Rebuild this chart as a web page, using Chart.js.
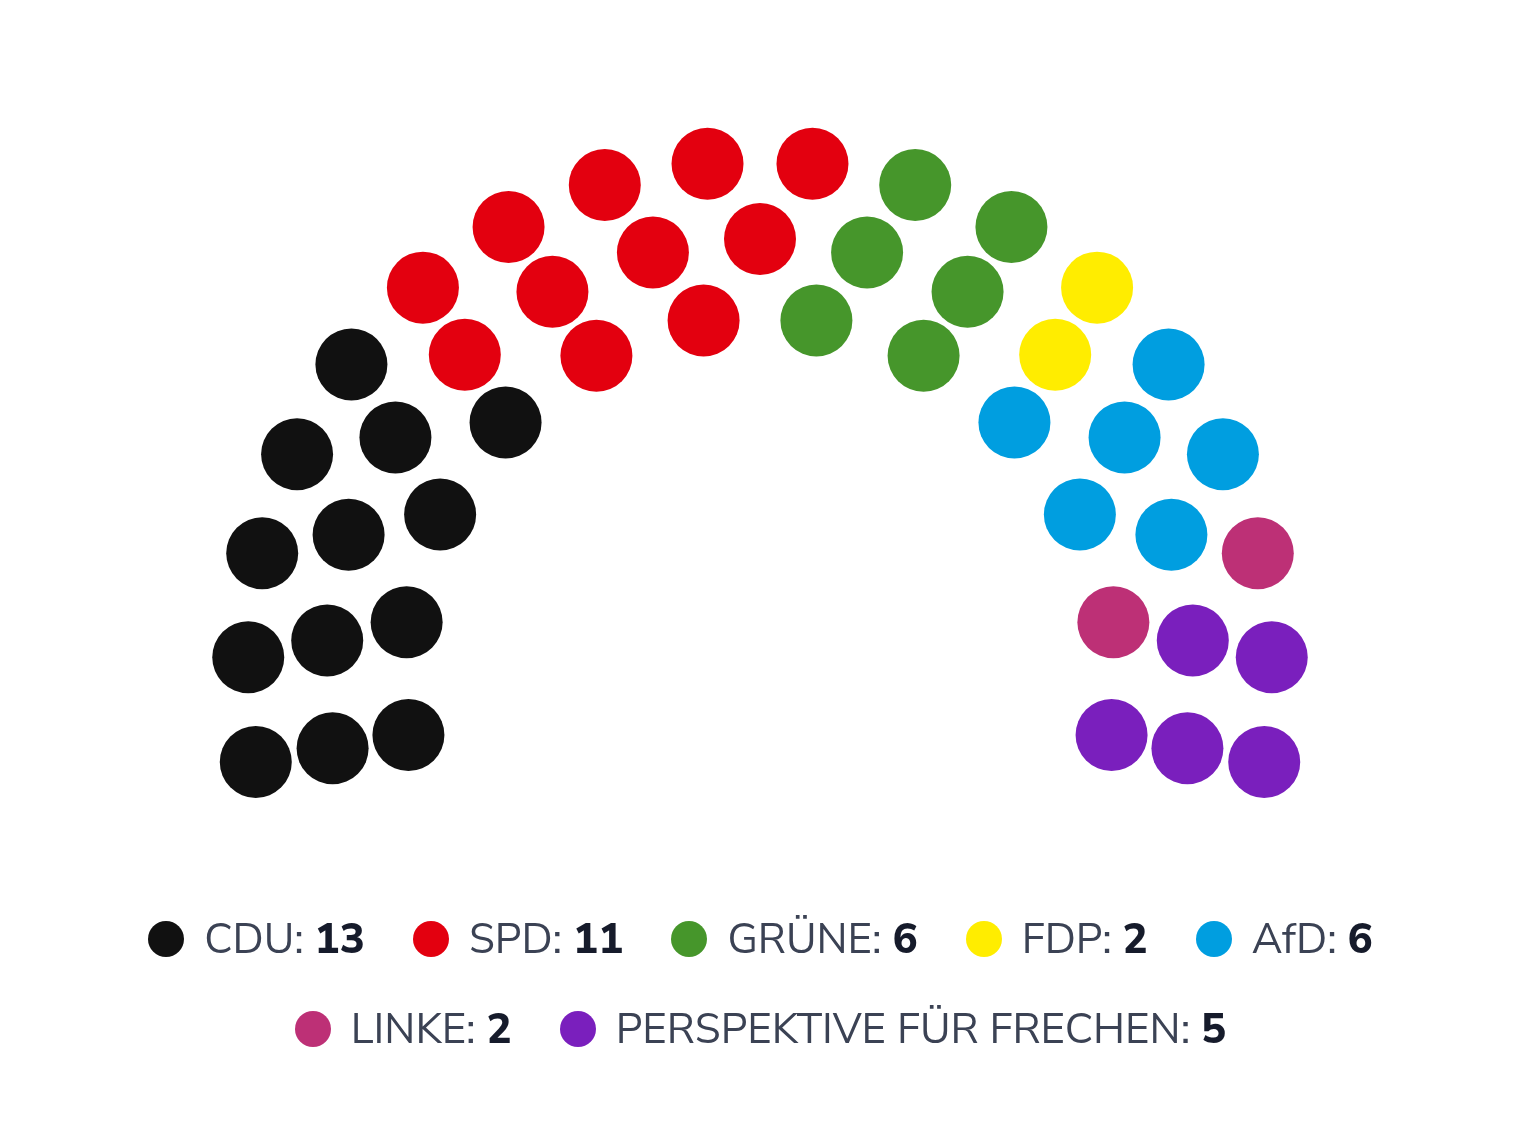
<!DOCTYPE html>
<html>
<head>
<meta charset="utf-8">
<script src="https://cdn.jsdelivr.net/npm/chart.js@4/dist/chart.umd.min.js"></script>
<style>
  html, body { margin: 0; padding: 0; background: #ffffff; }
  #wrap { position: relative; width: 1521px; height: 1140px; }
  #legend { position: absolute; left: 0; top: 910px; width: 1521px; font-family: "Nunito Sans", Lato, "Open Sans", sans-serif; font-size: 42px; color: #3b4254; }
  .row { display: flex; justify-content: center; align-items: center; height: 58px; margin-bottom: 32px; }
  .item { display: flex; align-items: center; margin: 0 24px; white-space: nowrap; }
  .dot { width: 36px; height: 36px; border-radius: 50%; margin-right: 20px; flex: none; }
  .item b { color: #161b2b; font-weight: 800; }
</style>
</head>
<body>
<div id="wrap">
  <canvas id="c"></canvas>
  <div id="legend"></div>
</div>
<script>
const parties = ["CDU", "SPD", "GRÜNE", "FDP", "AfD", "LINKE", "PERSPEKTIVE FÜR FRECHEN"];
const seats = [13, 11, 6, 2, 6, 2, 5];
const colors = ["#111111", "#e3000f", "#46962b", "#ffed00", "#009ee0", "#bd3076", "#7a1fbd"];
const rowSeats = [18, 15, 12];

// layout (pixel-based scale units around arc centre)
const rowRadii = [512, 434, 357];
const startDeg = 190, endDeg = -10;

// build seat positions sorted by angle
const allSeats = [];
rowSeats.forEach((n, r) => {
  for (let i = 0; i < n; i++) {
    const a = startDeg + (endDeg - startDeg) * i / (n - 1);
    allSeats.push({ a, r });
  }
});
allSeats.sort((p, q) => q.a - p.a || p.r - q.r);

const datasets = [];
let idx = 0;
parties.forEach((p, k) => {
  const pts = [];
  for (let s = 0; s < seats[k]; s++) {
    const seat = allSeats[idx++];
    const rad = seat.a * Math.PI / 180;
    pts.push({ x: rowRadii[seat.r] * Math.cos(rad), y: rowRadii[seat.r] * Math.sin(rad) });
  }
  datasets.push({
    label: p, data: pts, backgroundColor: colors[k], borderWidth: 0,
    pointRadius: 36, pointHoverRadius: 36
  });
});

new Chart(document.getElementById('c'), {
  type: 'scatter',
  data: { datasets },
  options: {
    responsive: true, maintainAspectRatio: false, animation: false,
    events: [],
    layout: { padding: 0, autoPadding: false },
    plugins: { legend: { display: false }, tooltip: { enabled: false } },
    scales: {
      x: { type: 'linear', min: -760, max: 761, display: false },
      y: { type: 'linear', min: -467, max: 673, display: false }
    }
  }
});

// legend
const legend = document.getElementById('legend');
const rows = [[0, 1, 2, 3, 4], [5, 6]];
rows.forEach(r => {
  const div = document.createElement('div');
  div.className = 'row';
  r.forEach(k => {
    const it = document.createElement('div');
    it.className = 'item';
    const d = document.createElement('span');
    d.className = 'dot';
    d.style.background = colors[k];
    it.appendChild(d);
    const t = document.createElement('span');
    t.innerHTML = parties[k] + ': <b>' + seats[k] + '</b>';
    it.appendChild(t);
    div.appendChild(it);
  });
  legend.appendChild(div);
});
</script>
</body>
</html>
